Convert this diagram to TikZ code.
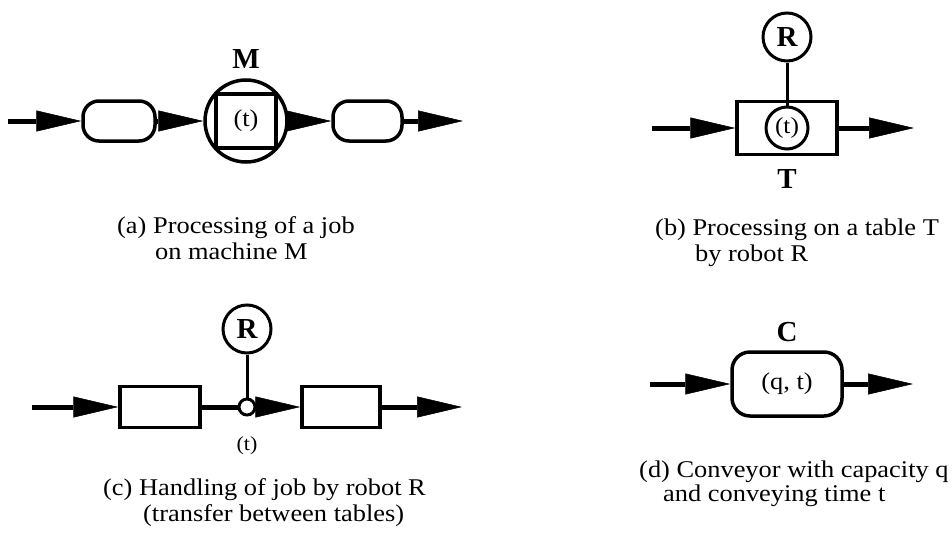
\documentclass[tikz,border=0pt]{standalone}
\usepackage{fontspec}
\setmainfont{Liberation Serif}
\newfontfamily\capfont[FakeStretch=1.1]{Liberation Serif}
\usetikzlibrary{positioning,arrows.meta}

\begin{document}
\begin{tikzpicture}[x=1pt, y=1pt,
    flow/.style={line width=5pt, -{Triangle[length=45pt,width=21pt,line width=0.5pt]}},
    link/.style={line width=5pt},
    arm/.style={line width=3pt},
    buffer/.style={draw, line width=3.5pt, rounded corners=16pt, inner sep=0pt},
    tablebox/.style={draw, line width=3.5pt, inner sep=0pt},
    station/.style={draw, circle, line width=3.5pt, inner sep=0pt},
    robot/.style={draw, circle, line width=3pt, minimum size=48pt, inner sep=0pt,
                  font=\bfseries\fontsize{29}{30}\selectfont},
    lab/.style={font=\bfseries\fontsize{29}{30}\selectfont, inner sep=0pt},
    captext/.style={font=\capfont\fontsize{24}{26}\selectfont, anchor=base west, inner sep=0pt}]
    %
    \useasboundingbox (0,0) rectangle (952,-538);
    %
    % (a)
    \coordinate (aIn) at (8,-121);
    \node[buffer, minimum width=72pt, minimum height=40pt] (aBufA) at (119,-121) {};
    \node[station, minimum size=82pt] (aMach) at (246,-121) {};
    \node[tablebox, minimum width=60pt, minimum height=54pt,
          font=\capfont\fontsize{24}{26}\selectfont] (aJob) at (aMach) {(t)};
    \node[lab, above=10pt of aMach] (aM) {M};
    \node[buffer, minimum width=69pt, minimum height=40pt] (aBufB) at (367.5,-121) {};
    \coordinate (aOut) at (463,-121);
    \draw[flow] (aIn) -- (aBufA);
    \draw[flow] (aBufA) -- (aMach);
    \draw[flow] (aMach) -- (aBufB);
    \draw[flow] (aBufB) -- (aOut);
    %
    % (b)
    \coordinate (bIn) at (652,-128);
    \node[tablebox, minimum width=100pt, minimum height=53pt] (bTable) at (787,-128) {};
    \node[station, line width=3pt, minimum size=42pt,
          font=\capfont\fontsize{23}{24}\selectfont] (bJob) at (bTable) {(t)};
    \node[robot] (bRobot) at (787,-37) {R};
    \node[lab, below=13pt of bTable] (bT) {T};
    \coordinate (bOut) at (914,-128);
    \draw[flow] (bIn) -- (bTable);
    \draw[flow] (bTable) -- (bOut);
    \draw[arm] (bRobot) -- (bJob);
    %
    % (c)
    \coordinate (cIn) at (32,-407);
    \node[tablebox, minimum width=80pt, minimum height=41pt] (cTabA) at (160,-407) {};
    \node[station, line width=3pt, minimum size=16pt, fill=white] (cHand) at (247,-407) {};
    \node[robot] (cRobot) at (247,-329) {R};
    \node[tablebox, minimum width=78pt, minimum height=41pt] (cTabB) at (341,-407) {};
    \coordinate (cOut) at (462,-407);
    \node[below=20pt of cHand, inner sep=0pt,
          font=\capfont\fontsize{20}{22}\selectfont] (cTime) {(t)};
    \draw[flow] (cIn) -- (cTabA);
    \draw[link] (cTabA) -- (cHand);
    \draw[flow] (cHand) -- (cTabB);
    \draw[flow] (cTabB) -- (cOut);
    \draw[arm] (cRobot) -- (cHand);
    %
    % (d)
    \coordinate (dIn) at (650,-384);
    \node[buffer, minimum width=110pt, minimum height=64pt, rounded corners=18pt,
          font=\capfont\fontsize{24}{26}\selectfont] (dConv) at (787,-384) {(q, t)};
    \node[lab, above=8pt of dConv] (dC) {C};
    \coordinate (dOut) at (913,-384);
    \draw[flow] (dIn) -- (dConv);
    \draw[flow] (dConv) -- (dOut);
    %
    % captions
    \node[captext] (aCap1) at (117,-233) {(a) Processing of a job};
    \node[captext] (aCap2) at (155,-259) {on machine M};
    \node[captext] (bCap1) at (655,-235) {(b) Processing on a table T};
    \node[captext] (bCap2) at (695,-261) {by robot R};
    \node[captext] (cCap1) at (103,-495) {(c) Handling of job by robot R};
    \node[captext] (cCap2) at (143,-521) {(transfer between tables)};
    \node[captext] (dCap1) at (639,-477) {(d) Conveyor with capacity q};
    \node[captext] (dCap2) at (663,-501) {and conveying time t};
\end{tikzpicture}
\end{document}
